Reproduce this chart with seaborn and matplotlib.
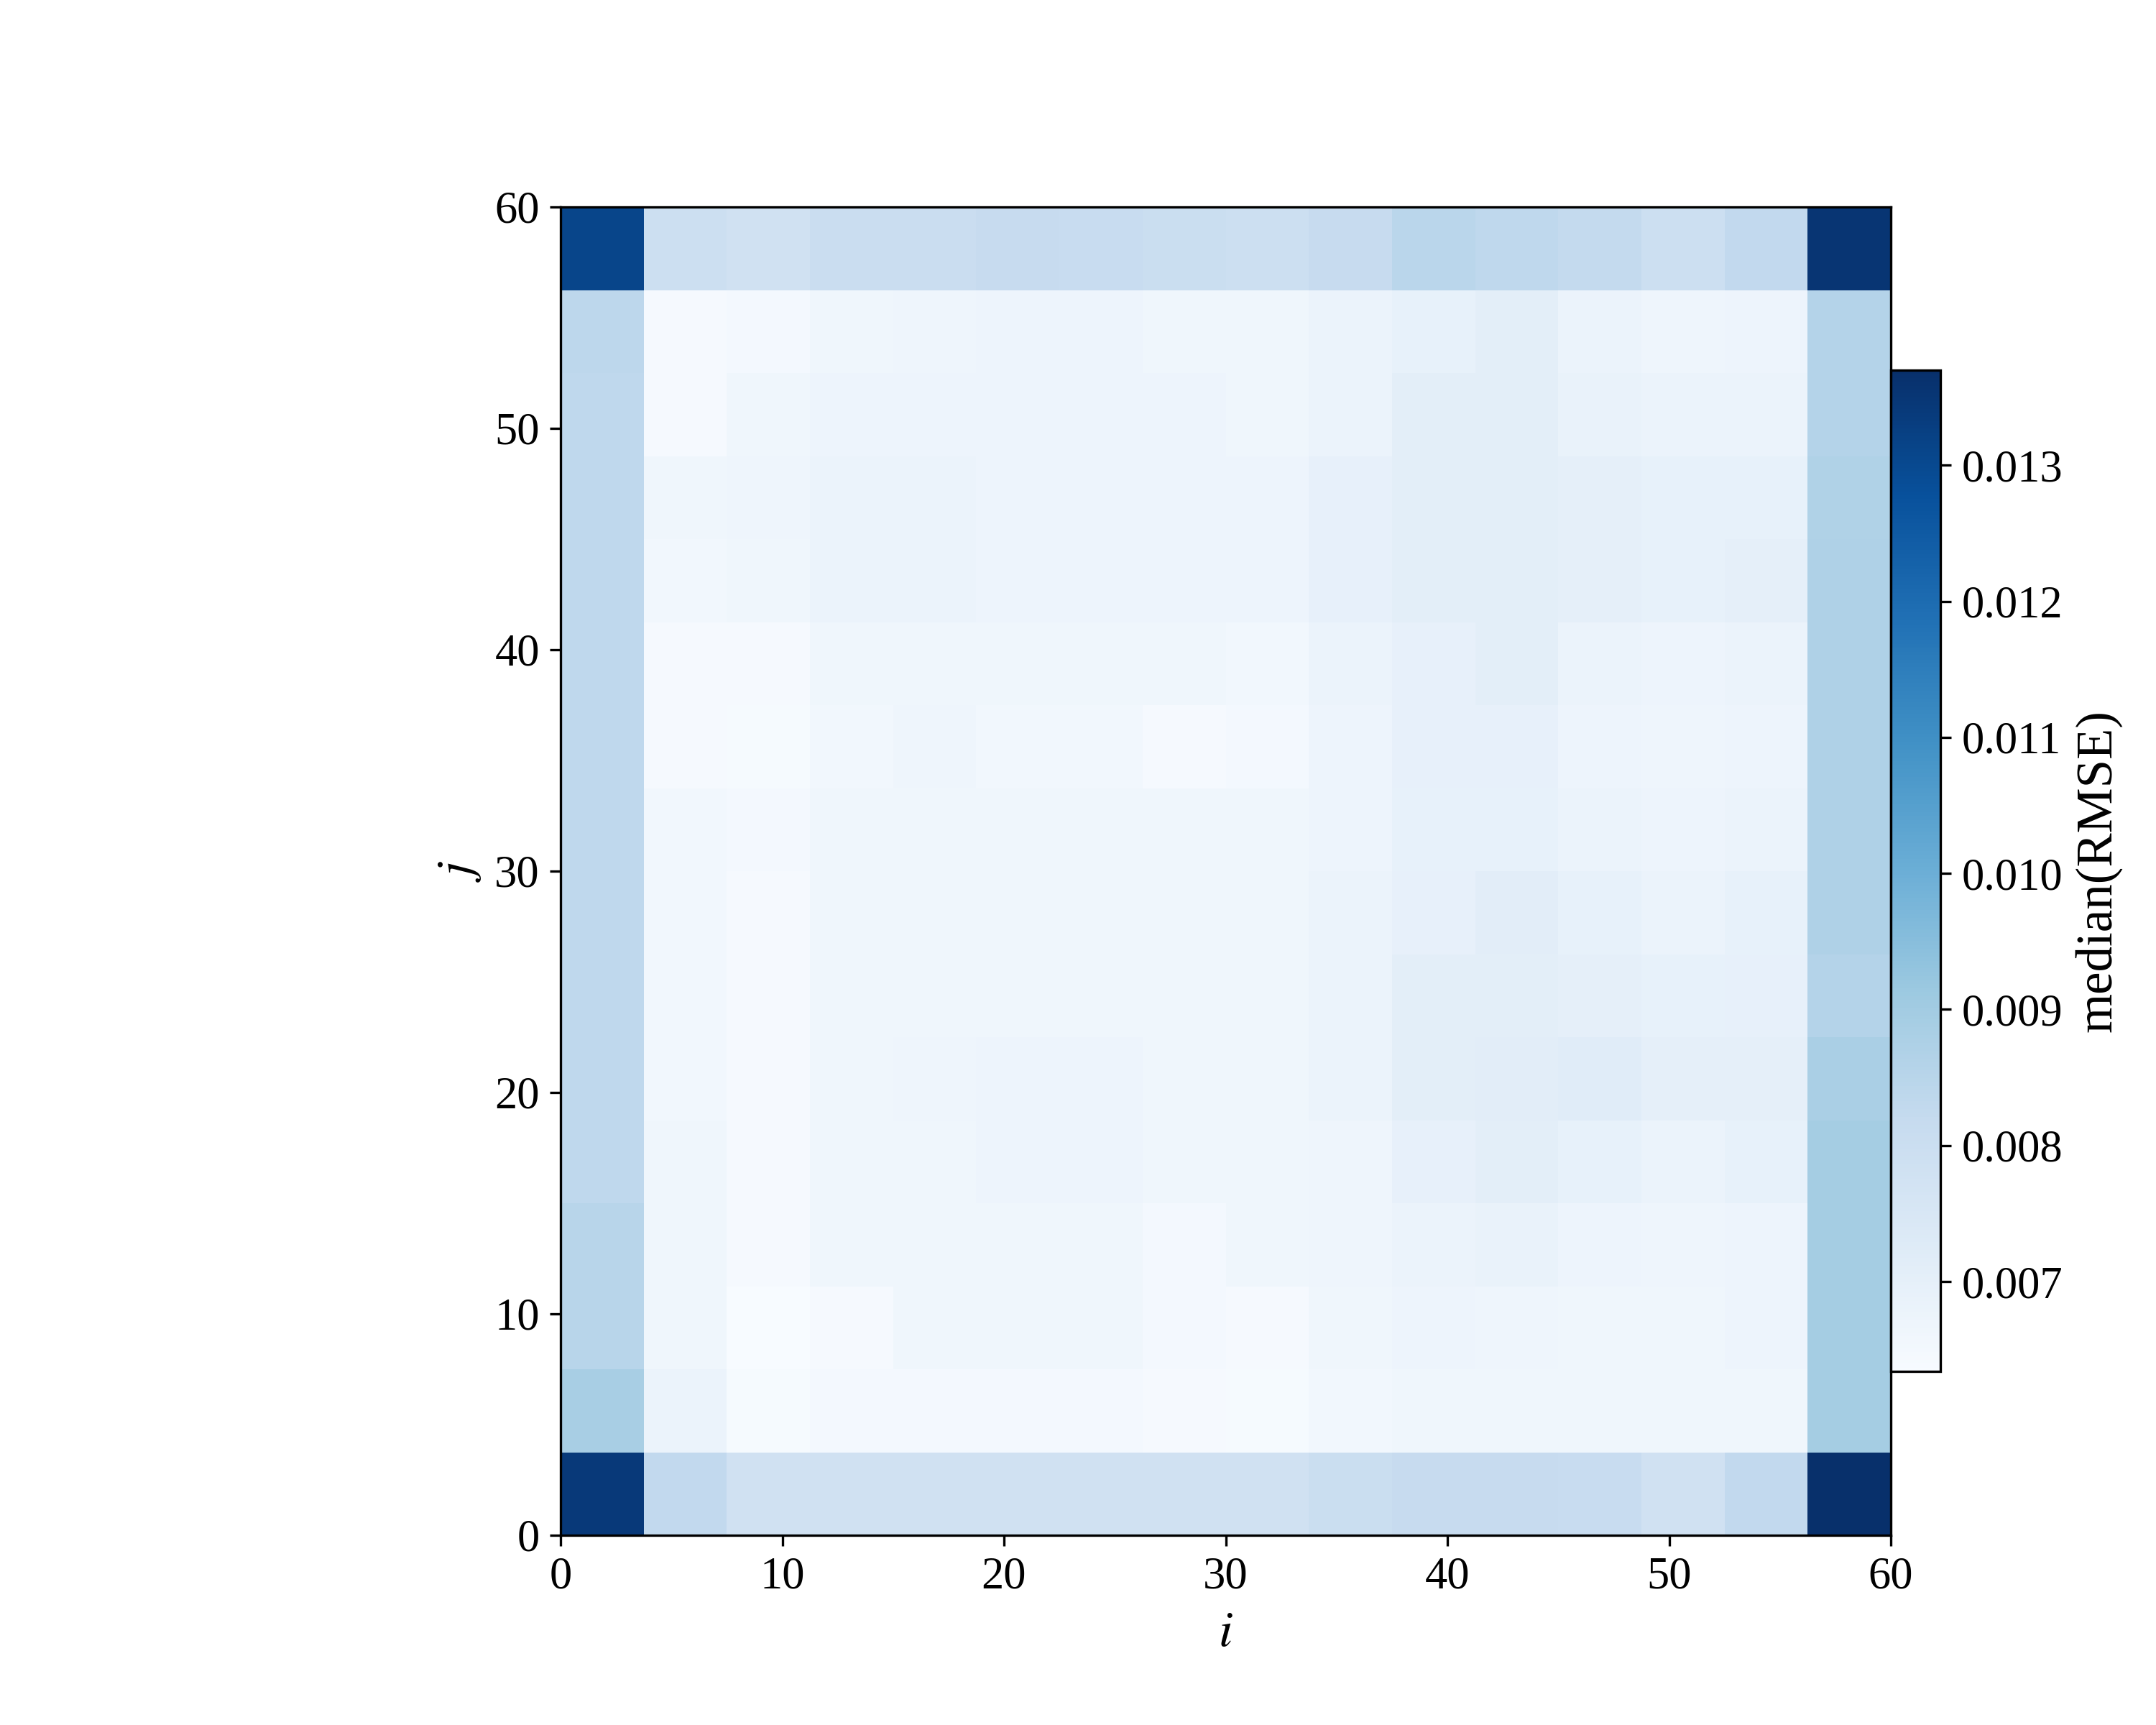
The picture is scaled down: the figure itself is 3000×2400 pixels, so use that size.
"""Median RMSE heatmap over the (i, j) grid."""

import numpy as np
import pandas as pd
import matplotlib
matplotlib.use("Agg")
import matplotlib.pyplot as plt
import matplotlib.ticker as mticker
import seaborn as sns

# grid: 16 x 16 bins spanning 0..60 on both axes
grid_max = 60
n_bins = 16
tick_values = [0, 10, 20, 30, 40, 50, 60]
tick_labels = ["0", "10", "20", "30", "40", "50", "60"]
cbar_ticks = [0.007, 0.008, 0.009, 0.010, 0.011, 0.012, 0.013]

# median RMSE, rows as seen in the figure (top row = highest j), columns i = 0..60
rmse_rows = [
    [0.01310, 0.00795, 0.00783, 0.00806, 0.00806, 0.00818, 0.00812, 0.00801, 0.00795, 0.00818, 0.00845, 0.00834, 0.00823, 0.00795, 0.00829, 0.01353],
    [0.00840, 0.00645, 0.00651, 0.00663, 0.00669, 0.00674, 0.00674, 0.00663, 0.00663, 0.00680, 0.00692, 0.00709, 0.00680, 0.00669, 0.00674, 0.00861],
    [0.00834, 0.00645, 0.00663, 0.00674, 0.00674, 0.00674, 0.00674, 0.00674, 0.00663, 0.00680, 0.00709, 0.00709, 0.00686, 0.00680, 0.00680, 0.00861],
    [0.00834, 0.00663, 0.00669, 0.00680, 0.00680, 0.00674, 0.00674, 0.00674, 0.00674, 0.00697, 0.00709, 0.00709, 0.00703, 0.00692, 0.00692, 0.00867],
    [0.00834, 0.00657, 0.00663, 0.00680, 0.00680, 0.00674, 0.00674, 0.00674, 0.00674, 0.00697, 0.00709, 0.00709, 0.00703, 0.00692, 0.00703, 0.00872],
    [0.00834, 0.00645, 0.00645, 0.00663, 0.00663, 0.00663, 0.00663, 0.00663, 0.00657, 0.00680, 0.00697, 0.00709, 0.00680, 0.00674, 0.00680, 0.00872],
    [0.00834, 0.00645, 0.00640, 0.00657, 0.00669, 0.00657, 0.00657, 0.00645, 0.00651, 0.00674, 0.00697, 0.00697, 0.00674, 0.00669, 0.00674, 0.00872],
    [0.00834, 0.00657, 0.00651, 0.00663, 0.00663, 0.00663, 0.00663, 0.00663, 0.00663, 0.00674, 0.00692, 0.00692, 0.00680, 0.00674, 0.00680, 0.00872],
    [0.00834, 0.00657, 0.00645, 0.00663, 0.00663, 0.00663, 0.00663, 0.00663, 0.00663, 0.00680, 0.00697, 0.00714, 0.00692, 0.00680, 0.00692, 0.00872],
    [0.00834, 0.00657, 0.00645, 0.00663, 0.00663, 0.00663, 0.00663, 0.00663, 0.00663, 0.00680, 0.00709, 0.00709, 0.00703, 0.00692, 0.00697, 0.00861],
    [0.00834, 0.00657, 0.00645, 0.00663, 0.00669, 0.00674, 0.00674, 0.00663, 0.00663, 0.00680, 0.00709, 0.00714, 0.00720, 0.00703, 0.00703, 0.00883],
    [0.00834, 0.00663, 0.00645, 0.00663, 0.00663, 0.00674, 0.00674, 0.00663, 0.00663, 0.00669, 0.00697, 0.00709, 0.00692, 0.00680, 0.00692, 0.00894],
    [0.00850, 0.00663, 0.00645, 0.00663, 0.00663, 0.00663, 0.00663, 0.00651, 0.00663, 0.00669, 0.00680, 0.00686, 0.00674, 0.00669, 0.00674, 0.00894],
    [0.00850, 0.00663, 0.00634, 0.00645, 0.00663, 0.00663, 0.00663, 0.00651, 0.00645, 0.00663, 0.00674, 0.00669, 0.00663, 0.00663, 0.00674, 0.00894],
    [0.00888, 0.00680, 0.00640, 0.00651, 0.00651, 0.00651, 0.00651, 0.00645, 0.00640, 0.00657, 0.00663, 0.00663, 0.00663, 0.00663, 0.00663, 0.00894],
    [0.01342, 0.00829, 0.00783, 0.00783, 0.00783, 0.00783, 0.00783, 0.00783, 0.00783, 0.00801, 0.00818, 0.00818, 0.00812, 0.00783, 0.00829, 0.01370],
]

plt.rcParams["font.family"] = ["Liberation Serif", "DejaVu Serif"]
plt.rcParams["mathtext.fontset"] = "stix"
plt.rcParams["font.size"] = 15

# row 0 of the frame = lowest j bin
df = pd.DataFrame(np.flipud(np.array(rmse_rows)))

fig = plt.figure(figsize=(10, 8), dpi=300)
ax = fig.add_axes([0.26, 0.11, 0.617, 0.77])
cax = fig.add_axes([0.877, 0.205, 0.023, 0.5805])

sns.heatmap(df, cmap="Blues", ax=ax, cbar_ax=cax,
            xticklabels=False, yticklabels=False)

ax.set_ylim(0, n_bins)
ax.set_xlim(0, n_bins)
tick_pos = np.array(tick_values) / grid_max * n_bins
ax.set_xticks(tick_pos)
ax.set_xticklabels(tick_labels)
ax.set_yticks(tick_pos)
ax.set_yticklabels(tick_labels, rotation=0)
ax.tick_params(length=3.5, width=0.8, direction="out")
for spine in ax.spines.values():
    spine.set_visible(True)
    spine.set_color("black")
    spine.set_linewidth(0.8)

ax.set_xlabel("$i$", fontsize=17)
ax.set_ylabel("$j$", fontsize=17)

cbar = ax.collections[0].colorbar
cbar.set_ticks(cbar_ticks)
cbar.ax.yaxis.set_major_formatter(mticker.FormatStrFormatter("%.3f"))
cbar.set_label("median(RMSE)", fontsize=17)
cbar.outline.set_visible(True)
cbar.outline.set_edgecolor("black")
cbar.outline.set_linewidth(0.8)
cbar.ax.tick_params(length=3.5, width=0.8)

plt.savefig("out.png", dpi=300)
plt.close()
